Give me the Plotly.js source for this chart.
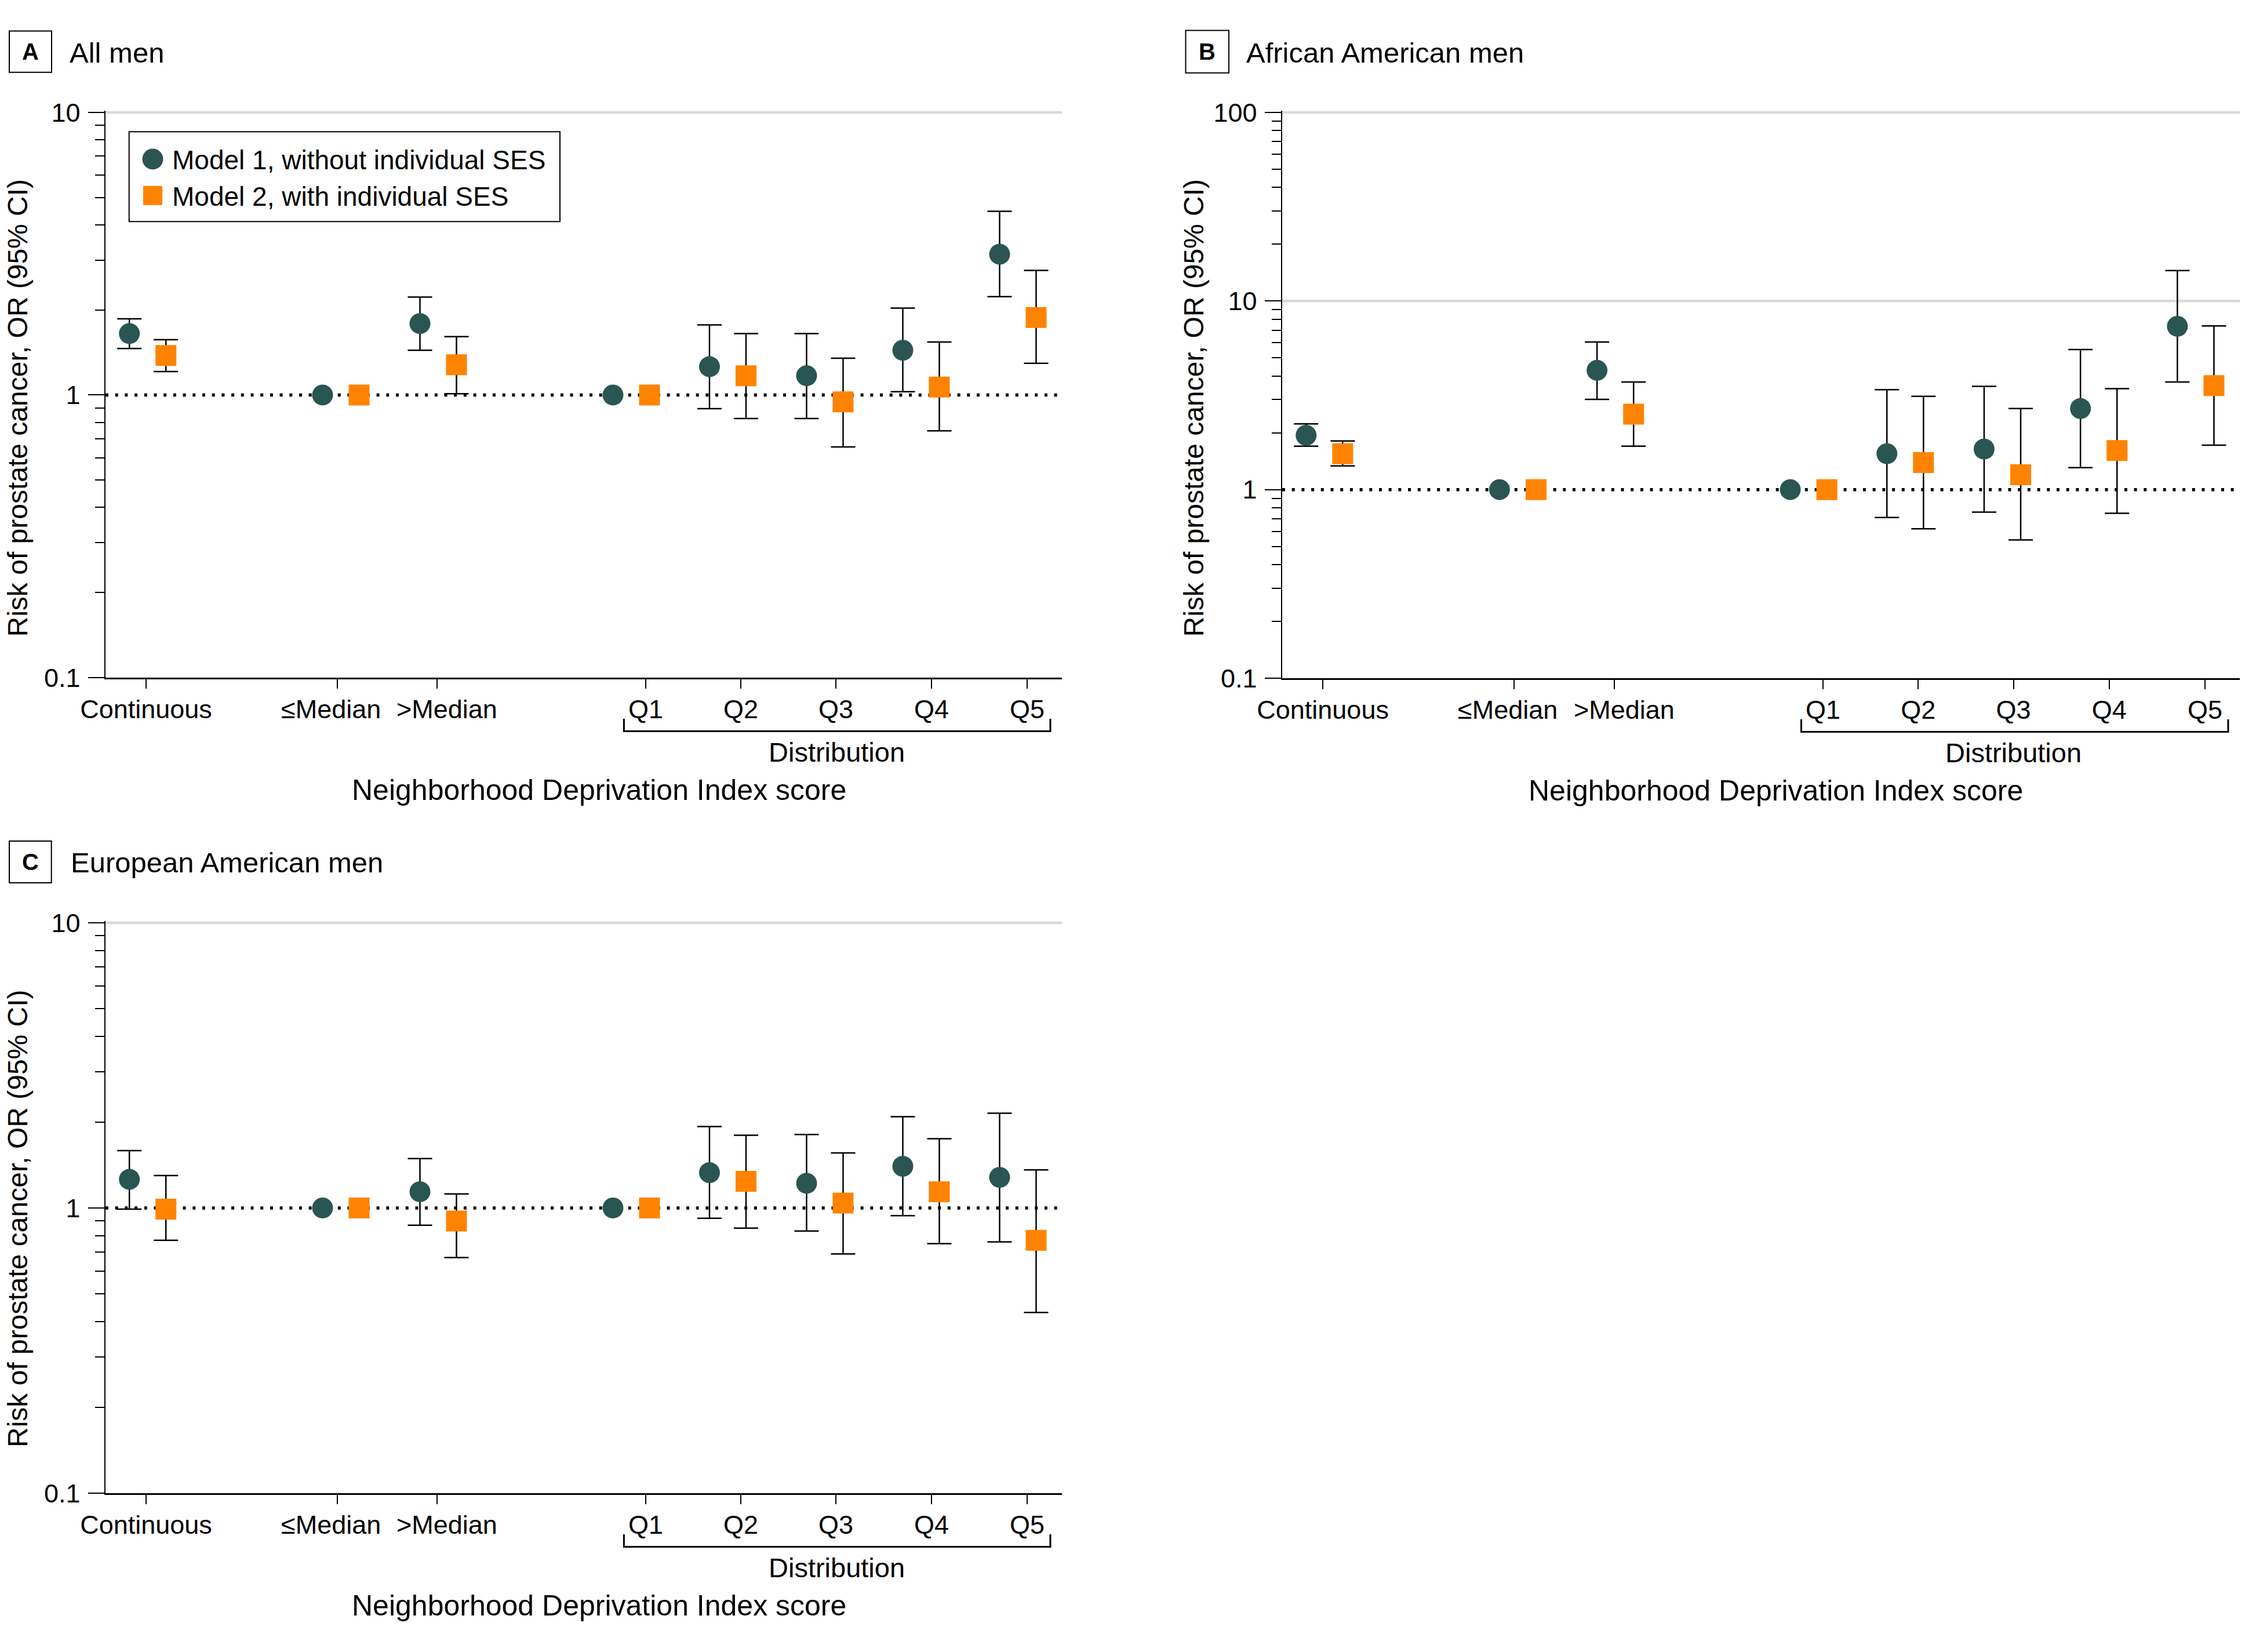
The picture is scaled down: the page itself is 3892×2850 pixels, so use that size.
<!DOCTYPE html>
<html>
<head>
<meta charset="utf-8">
<script src="https://cdn.plot.ly/plotly-3.0.1.min.js"></script>
<style>
html,body{margin:0;padding:0;background:#fff;}
#chart{width:3892px;height:2850px;}
</style>
</head>
<body>
<div id="chart"></div>
<script>
// ---------------- DATA ----------------
const categories = ['Continuous', '\u2264Median', '>Median', 'Q1', 'Q2', 'Q3', 'Q4', 'Q5'];
const seriesNames = ['Model 1, without individual SES', 'Model 2, with individual SES'];

// Panel A: All men
const allM1    = [1.65, 1, 1.79, 1, 1.26, 1.17, 1.44, 3.15];
const allM1Lo  = [1.46, null, 1.44, null, 0.895, 0.826, 1.027, 2.23];
const allM1Hi  = [1.86, null, 2.22, null, 1.77, 1.65, 2.03, 4.47];
const allM2    = [1.38, 1, 1.28, 1, 1.17, 0.946, 1.067, 1.88];
const allM2Lo  = [1.21, null, 1.01, null, 0.826, 0.655, 0.747, 1.295];
const allM2Hi  = [1.57, null, 1.61, null, 1.65, 1.35, 1.54, 2.76];

// Panel B: African American men
const aaM1     = [1.94, 1, 4.29, 1, 1.55, 1.64, 2.69, 7.34];
const aaM1Lo   = [1.70, null, 3.01, null, 0.712, 0.760, 1.307, 3.72];
const aaM1Hi   = [2.23, null, 6.06, null, 3.39, 3.53, 5.53, 14.5];
const aaM2     = [1.55, 1, 2.51, 1, 1.39, 1.20, 1.61, 3.56];
const aaM2Lo   = [1.335, null, 1.70, null, 0.62, 0.541, 0.749, 1.72];
const aaM2Hi   = [1.81, null, 3.72, null, 3.12, 2.69, 3.43, 7.38];

// Panel C: European American men
const eaM1     = [1.26, 1, 1.14, 1, 1.33, 1.22, 1.40, 1.28];
const eaM1Lo   = [0.99, null, 0.87, null, 0.92, 0.83, 0.94, 0.76];
const eaM1Hi   = [1.59, null, 1.49, null, 1.93, 1.81, 2.09, 2.15];
const eaM2     = [0.99, 1, 0.90, 1, 1.24, 1.04, 1.14, 0.77];
const eaM2Lo   = [0.77, null, 0.67, null, 0.85, 0.69, 0.75, 0.43];
const eaM2Hi   = [1.30, null, 1.12, null, 1.80, 1.56, 1.75, 1.36];

// ---------------- LAYOUT HELPERS ----------------
const W = 3892, H = 2850;
const FONT = 'Liberation Sans, Arial, Helvetica, sans-serif';
const fx = p => p / W;
const fy = p => 1 - p / H;

// category slots on a 0..1650 axis scale
const xRange = [0, 1650];
const tickPos  = [70, 400, 572, 932, 1096, 1260, 1425, 1590];
const groupPos = [72.7, 406, 574, 907, 1073.5, 1241, 1407, 1574];
const labelNudge = [0, -11, 17, 0, 0, 0, 0, 0];   // the two median labels sit slightly apart
const pairOff = 31.5;
const nudged = labelNudge.map(v => v !== 0);
// labels drawn by the axis itself (the nudged ones are placed as annotations)
const axisLabels = categories.map((c, i) => nudged[i] ? '' : c);

const C1 = '#2A5552', C2 = '#FF8300';

const panels = [
  {letter: 'A', title: 'All men', xa: 'x', ya: 'y', xdom: [182, 1832], ydom: [191, 1169], yr: [-1, 1.006],
   ymaj: [0.1, 1, 10], grid: [10], d: [allM1, allM1Lo, allM1Hi, allM2, allM2Lo, allM2Hi], legend: true,
   box: [16, 89, 53.4, 124.8], titleX: 118, titleY: 90.7, ytitle: [30, 703.5]},
  {letter: 'B', title: 'African American men', xa: 'x2', ya: 'y2', xdom: [2212, 3864], ydom: [191, 1170], yr: [-1, 2.009],
   ymaj: [0.1, 1, 10, 100], grid: [10, 100], d: [aaM1, aaM1Lo, aaM1Hi, aaM2, aaM2Lo, aaM2Hi], legend: false,
   box: [2045.5, 2120, 52.5, 125.7], titleX: 2147.6, titleY: 90.7, ytitle: [2059, 703.5]},
  {letter: 'C', title: 'European American men', xa: 'x3', ya: 'y3', xdom: [182, 1832], ydom: [1589, 2576], yr: [-1, 1.006],
   ymaj: [0.1, 1, 10], grid: [10], d: [eaM1, eaM1Lo, eaM1Hi, eaM2, eaM2Lo, eaM2Hi], legend: false,
   box: [16, 88.7, 1451, 1523], titleX: 120, titleY: 1487.8, ytitle: [30, 2102]}
];

const minorVals = [];
[0.1, 1, 10].forEach(b => { for (let k = 2; k <= 9; k++) minorVals.push(+(b * k).toPrecision(3)); });

const nanIfNull = v => (v === null || v === undefined) ? NaN : v;

const traces = [];
const layout = {
  width: W, height: H,
  margin: {l: 0, r: 0, t: 0, b: 0, pad: 0},
  paper_bgcolor: '#fff', plot_bgcolor: 'rgba(0,0,0,0)',
  font: {family: FONT, color: '#000', size: 45},
  showlegend: true,
  hovermode: false,
  legend: {
    x: fx(230), y: fy(238), xanchor: 'left', yanchor: 'top',
    bgcolor: 'rgba(0,0,0,0)', borderwidth: 0,
    font: {family: FONT, size: 46, color: '#000'},
    itemwidth: 57, tracegroupgap: 0, traceorder: 'normal'
  },
  shapes: [
    // legend frame
    {type: 'rect', xref: 'paper', yref: 'paper', x0: fx(222.7), x1: fx(966), y0: fy(382.3), y1: fy(227.3),
     line: {color: '#000', width: 2}, fillcolor: '#fff', layer: 'below'}
  ],
  annotations: []
};

panels.forEach((p, pi) => {
  const axX = p.xa === 'x' ? 'xaxis' : 'xaxis' + p.xa.slice(1);
  const axY = p.ya === 'y' ? 'yaxis' : 'yaxis' + p.ya.slice(1);
  layout[axX] = {
    domain: [fx(p.xdom[0]), fx(p.xdom[1])], range: xRange, anchor: p.ya,
    showgrid: false, zeroline: false, showline: true, linecolor: '#000', linewidth: 3,
    tickmode: 'array', tickvals: tickPos, ticktext: axisLabels, tickangle: 0,
    ticks: 'outside', ticklen: 16, tickwidth: 2, tickcolor: '#000',
    tickfont: {family: FONT, size: 45, color: '#000'}, ticklabelstandoff: -3,
    fixedrange: true
  };
  layout[axY] = {
    domain: [fy(p.ydom[1]), fy(p.ydom[0])], type: 'log', range: p.yr, anchor: p.xa,
    showgrid: false, zeroline: false, showline: true, linecolor: '#000', linewidth: 2.5,
    tickmode: 'array', tickvals: p.ymaj, ticktext: p.ymaj.map(v => String(v)),
    ticks: 'outside', ticklen: 28, tickwidth: 2, tickcolor: '#000',
    tickfont: {family: FONT, size: 45, color: '#000'}, ticklabelstandoff: 4,
    minor: {tickmode: 'array', tickvals: minorVals.filter(v => v < Math.pow(10, p.yr[1])), ticks: 'outside', ticklen: 16, tickwidth: 2, tickcolor: '#000', showgrid: false},
    fixedrange: true
  };

  const axisBottom = p.ydom[1];
  const shift = p.xdom[0] - 182;

  // median category labels, nudged apart as in the original figure
  categories.forEach((c, i) => {
    if (!nudged[i]) return;
    layout.annotations.push({text: c, xref: p.xa, yref: 'paper',
      x: tickPos[i] + labelNudge[i], y: fy(axisBottom + 54.5), xanchor: 'center', yanchor: 'middle',
      showarrow: false, font: {family: FONT, size: 45, color: '#000'}});
  });

  // horizontal gridlines at upper decades
  p.grid.forEach(g => traces.push({
    x: xRange, y: [g, g], xaxis: p.xa, yaxis: p.ya, mode: 'lines',
    line: {color: '#d9d9d9', width: 4.5}, hoverinfo: 'skip', showlegend: false
  }));
  // reference line OR = 1
  traces.push({
    x: xRange, y: [1, 1], xaxis: p.xa, yaxis: p.ya, mode: 'lines',
    line: {color: '#000', width: 5.5, dash: '5px,11.7px'}, hoverinfo: 'skip', showlegend: false
  });

  const [m1, m1lo, m1hi, m2, m2lo, m2hi] = p.d;
  const mk = (vals, lo, hi, off, sym, col, name) => ({
    x: groupPos.map(g => g + off), y: vals, xaxis: p.xa, yaxis: p.ya, mode: 'markers', name: name,
    marker: {symbol: sym, size: 36, color: col, line: {width: 0}},
    error_y: {type: 'data', symmetric: false,
      array: hi.map((h, i) => nanIfNull(h) - vals[i]),
      arrayminus: lo.map((l, i) => vals[i] - nanIfNull(l)),
      color: '#000', thickness: 2.5, width: 21},
    showlegend: p.legend, hoverinfo: 'skip', cliponaxis: false
  });
  traces.push(mk(m1, m1lo, m1hi, -pairOff, 'circle', C1, seriesNames[0]));
  traces.push(mk(m2, m2lo, m2hi, pairOff, 'square', C2, seriesNames[1]));

  // panel letter box + letter + title
  layout.shapes.push({type: 'rect', xref: 'paper', yref: 'paper',
    x0: fx(p.box[0]), x1: fx(p.box[1]), y0: fy(p.box[3]), y1: fy(p.box[2]),
    line: {color: '#000', width: 2}, fillcolor: 'rgba(0,0,0,0)'});
  layout.annotations.push({text: '<b>' + p.letter + '</b>', xref: 'paper', yref: 'paper',
    x: fx((p.box[0] + p.box[1]) / 2), y: fy((p.box[2] + p.box[3]) / 2), xanchor: 'center', yanchor: 'middle',
    showarrow: false, font: {family: FONT, size: 40, color: '#000'}});
  layout.annotations.push({text: p.title, xref: 'paper', yref: 'paper',
    x: fx(p.titleX), y: fy(p.titleY), xanchor: 'left', yanchor: 'middle',
    showarrow: false, font: {family: FONT, size: 49, color: '#000'}});

  // y axis title
  layout.annotations.push({text: 'Risk of prostate cancer, OR (95% CI)', xref: 'paper', yref: 'paper',
    x: fx(p.ytitle[0]), y: fy(p.ytitle[1]), xanchor: 'center', yanchor: 'middle', textangle: -90,
    showarrow: false, font: {family: FONT, size: 48, color: '#000'}});

  // distribution bracket and labels
  layout.shapes.push({type: 'path', xref: p.xa, yref: 'paper',
    path: 'M' + (tickPos[3] - 37.6) + ',' + fy(axisBottom + 71) +
          ' L' + (tickPos[3] - 37.6) + ',' + fy(axisBottom + 92.5) +
          ' L' + (tickPos[7] + 40) + ',' + fy(axisBottom + 92.5) +
          ' L' + (tickPos[7] + 40) + ',' + fy(axisBottom + 71),
    line: {color: '#000', width: 3}});
  layout.annotations.push({text: 'Distribution', xref: 'paper', yref: 'paper',
    x: fx(1443 + shift), y: fy(axisBottom + 128), xanchor: 'center', yanchor: 'middle',
    showarrow: false, font: {family: FONT, size: 47, color: '#000'}});
  layout.annotations.push({text: 'Neighborhood Deprivation Index score', xref: 'paper', yref: 'paper',
    x: fx(1033 + shift), y: fy(axisBottom + 194), xanchor: 'center', yanchor: 'middle',
    showarrow: false, font: {family: FONT, size: 50, color: '#000'}});
});

Plotly.newPlot('chart', traces, layout, {displayModeBar: false, staticPlot: true}).then(gd => {
  // enlarge the legend symbols to match the plotted marker size
  const pts = gd.querySelectorAll('.legend .legendpoints path.scatterpts');
  pts.forEach((el, i) => {
    if (i === 0) el.setAttribute('d', 'M18,0A18,18 0 1,1 0,-18A18,18 0 0,1 18,0Z');
    else el.setAttribute('d', 'M16.5,16.5H-16.5V-16.5H16.5Z');
  });
});
</script>
</body>
</html>
